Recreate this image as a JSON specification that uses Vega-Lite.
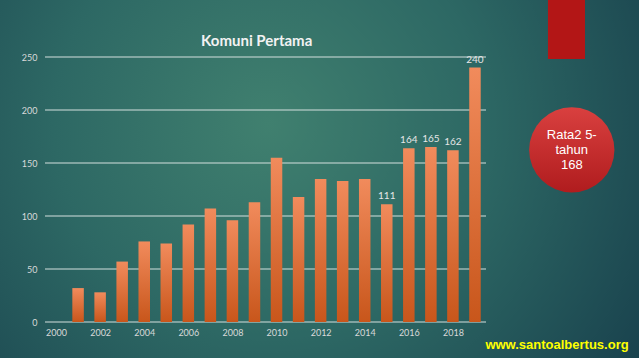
{
  "$schema": "https://vega.github.io/schema/vega-lite/v6.json",
  "width": 441,
  "height": 265,
  "autosize": {"type": "none"},
  "padding": {"left": 45, "top": 57, "right": 153, "bottom": 36},
  "background": "#245a5c",
  "config": {"view": {"stroke": null}},
  "datasets": {
    "komuni": [
      {"year": 2001, "value": 32}, {"year": 2002, "value": 28}, {"year": 2003, "value": 57},
      {"year": 2004, "value": 76}, {"year": 2005, "value": 74}, {"year": 2006, "value": 92},
      {"year": 2007, "value": 107}, {"year": 2008, "value": 96}, {"year": 2009, "value": 113},
      {"year": 2010, "value": 155}, {"year": 2011, "value": 118}, {"year": 2012, "value": 135},
      {"year": 2013, "value": 133}, {"year": 2014, "value": 135}, {"year": 2015, "value": 111},
      {"year": 2016, "value": 164}, {"year": 2017, "value": 165}, {"year": 2018, "value": 162},
      {"year": 2019, "value": 240}
    ],
    "bg": [{"year": 1997, "year2": 2027, "value": 320, "value2": -45}],
    "grid": [{"value": 0}, {"value": 50}, {"value": 100}, {"value": 150}, {"value": 200}, {"value": 250}],
    "heading": [{"year": 2009.1, "value": 260.7, "label": "Komuni Pertama"}],
    "box": [{"year": 2022.31, "year2": 2023.99, "value": 320, "value2": 248.1}],
    "badge": [{"year": 2023.39, "value": 162.3, "label": "Rata2 5-\ntahun\n168"}],
    "site": [{"year": 2022.72, "value": -21.7, "label": "www.santoalbertus.org"}]
  },
  "layer": [
    {
      "data": {"name": "bg"},
      "mark": {"type": "rect", "color": {"gradient": "radial", "x1": 0.42, "y1": 0.42, "r1": 0, "x2": 0.42, "y2": 0.42, "r2": 0.72,
        "stops": [{"offset": 0, "color": "#40806f"}, {"offset": 0.45, "color": "#2d6864"}, {"offset": 1, "color": "#163c4a"}]}},
      "encoding": {
        "x": {"field": "year", "type": "quantitative", "scale": {"domain": [1999.5, 2019.5], "nice": false, "zero": false, "padding": 0}, "title": null},
        "x2": {"field": "year2"},
        "y": {"field": "value", "type": "quantitative", "scale": {"domain": [0, 250], "nice": false, "padding": 0}, "title": null},
        "y2": {"field": "value2"}
      }
    },
    {
      "data": {"name": "grid"},
      "mark": {"type": "rule", "color": "#d3dfdd", "strokeWidth": 1.2},
      "encoding": {
        "y": {"field": "value", "type": "quantitative", "scale": {"domain": [0, 250], "nice": false, "padding": 0}, "title": null}
      }
    },
    {
      "data": {"name": "komuni"},
      "mark": {"type": "bar", "size": 11.5, "color": {"gradient": "linear", "x1": 0, "y1": 0, "x2": 0, "y2": 1,
        "stops": [{"offset": 0, "color": "#f18b5c"}, {"offset": 1, "color": "#c8561b"}]}},
      "encoding": {
        "x": {"field": "year", "type": "quantitative", "scale": {"domain": [1999.5, 2019.5], "nice": false, "zero": false, "padding": 0}, "title": null,
          "axis": {"values": [2000, 2002, 2004, 2006, 2008, 2010, 2012, 2014, 2016, 2018], "format": "d", "grid": false, "ticks": false, "domain": false,
            "labelFont": "Lato", "labelFontSize": 9, "labelColor": "#d9d9d9", "labelPadding": 6, "zindex": 1}},
        "y": {"field": "value", "type": "quantitative", "scale": {"domain": [0, 250], "nice": false, "padding": 0}, "title": null,
          "axis": {"values": [0, 50, 100, 150, 200, 250], "grid": false, "ticks": false, "domain": false,
            "labelFont": "Lato", "labelFontSize": 9, "labelColor": "#d9d9d9", "labelPadding": 8, "zindex": 1}}
      }
    },
    {
      "data": {"name": "komuni"},
      "transform": [{"filter": "datum.year >= 2015"}],
      "mark": {"type": "text", "font": "Lato", "fontSize": 10, "color": "#e6e6e6", "baseline": "bottom", "dy": -3},
      "encoding": {
        "x": {"field": "year", "type": "quantitative", "scale": {"domain": [1999.5, 2019.5], "nice": false, "zero": false, "padding": 0}, "title": null},
        "y": {"field": "value", "type": "quantitative", "scale": {"domain": [0, 250], "nice": false, "padding": 0}, "title": null},
        "text": {"field": "value", "type": "quantitative"}
      }
    },
    {
      "data": {"name": "heading"},
      "mark": {"type": "text", "font": "Lato", "fontSize": 15, "fontWeight": "bold", "color": "#f2f2f2", "align": "center", "baseline": "alphabetic"},
      "encoding": {
        "x": {"field": "year", "type": "quantitative", "scale": {"domain": [1999.5, 2019.5], "nice": false, "zero": false, "padding": 0}, "title": null},
        "y": {"field": "value", "type": "quantitative", "scale": {"domain": [0, 250], "nice": false, "padding": 0}, "title": null},
        "text": {"field": "label"}
      }
    },
    {
      "data": {"name": "box"},
      "mark": {"type": "rect", "color": "#b31616"},
      "encoding": {
        "x": {"field": "year", "type": "quantitative", "scale": {"domain": [1999.5, 2019.5], "nice": false, "zero": false, "padding": 0}, "title": null},
        "x2": {"field": "year2"},
        "y": {"field": "value", "type": "quantitative", "scale": {"domain": [0, 250], "nice": false, "padding": 0}, "title": null},
        "y2": {"field": "value2"}
      }
    },
    {
      "data": {"name": "badge"},
      "mark": {"type": "point", "shape": "circle", "filled": true, "size": 7276, "opacity": 1, "strokeWidth": 0,
        "color": {"gradient": "linear", "x1": 0, "y1": 0, "x2": 0, "y2": 1,
          "stops": [{"offset": 0, "color": "#d9403f"}, {"offset": 1, "color": "#b01c1e"}]}},
      "encoding": {
        "x": {"field": "year", "type": "quantitative", "scale": {"domain": [1999.5, 2019.5], "nice": false, "zero": false, "padding": 0}, "title": null},
        "y": {"field": "value", "type": "quantitative", "scale": {"domain": [0, 250], "nice": false, "padding": 0}, "title": null}
      }
    },
    {
      "data": {"name": "badge"},
      "mark": {"type": "text", "font": "Liberation Sans", "fontSize": 13, "color": "#ffffff", "align": "center", "baseline": "middle", "lineBreak": "\n", "lineHeight": 15, "dy": -15},
      "encoding": {
        "x": {"field": "year", "type": "quantitative", "scale": {"domain": [1999.5, 2019.5], "nice": false, "zero": false, "padding": 0}, "title": null},
        "y": {"field": "value", "type": "quantitative", "scale": {"domain": [0, 250], "nice": false, "padding": 0}, "title": null},
        "text": {"field": "label"}
      }
    },
    {
      "data": {"name": "site"},
      "mark": {"type": "text", "font": "Liberation Sans", "fontSize": 13, "fontWeight": "bold", "color": "#ffff00", "align": "center", "baseline": "middle"},
      "encoding": {
        "x": {"field": "year", "type": "quantitative", "scale": {"domain": [1999.5, 2019.5], "nice": false, "zero": false, "padding": 0}, "title": null},
        "y": {"field": "value", "type": "quantitative", "scale": {"domain": [0, 250], "nice": false, "padding": 0}, "title": null},
        "text": {"field": "label"}
      }
    }
  ]
}
